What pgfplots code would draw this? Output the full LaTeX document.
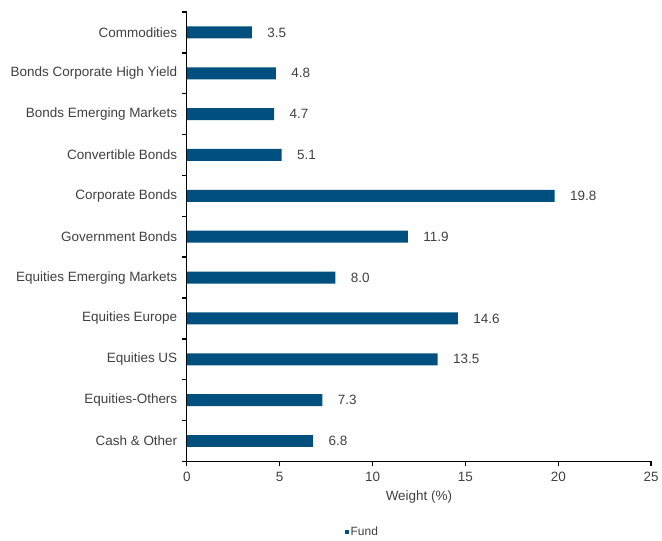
\documentclass[border=0pt]{standalone}
\usepackage{pgfplots}
\pgfplotsset{compat=1.18}
\usepackage{fontspec}
\setmainfont{Liberation Sans}
\definecolor{barblue}{HTML}{00507F}
\definecolor{txt}{HTML}{404040}
\begin{document}
\begin{tikzpicture}
\begin{axis}[
  name=ax,
  scale only axis,
  width=465pt, height=450pt,
  xbar, bar width=12pt,
  xmin=0, xmax=25,
  ymin=-0.5, ymax=10.5,
  y dir=reverse,
  axis x line*=bottom,
  axis y line*=left,
  axis line style={black, line width=1.4pt},
  xtick={0,5,...,25},
  ytick={0,...,10},
  yticklabels={Commodities,Bonds Corporate High Yield,Bonds Emerging Markets,Convertible Bonds,Corporate Bonds,Government Bonds,Equities Emerging Markets,Equities Europe,Equities US,Equities-Others,Cash \& Other},
  minor ytick={-0.5,0.5,...,10.5},
  major y tick style={draw=none},
  minor y tick style={black, line width=1.4pt},
  x tick style={black, line width=1.4pt},
  tick align=outside,
  major tick length=5pt, minor tick length=5pt,
  tick label style={font=\fontsize{13.5}{15}\selectfont, text=txt},
  yticklabel style={xshift=-1pt},
  xticklabel style={yshift=-2pt},
  /pgf/number format/assume math mode=true,
  xlabel={Weight (\%)},
  xlabel style={font=\fontsize{13.5}{15}\selectfont, text=txt, yshift=-2pt},
  nodes near coords,
  nodes near coords style={font=\fontsize{13.5}{15}\selectfont, text=txt, anchor=west, xshift=12pt,
    /pgf/number format/.cd, fixed, precision=1, fixed zerofill},
  legend style={at={(0.378,-0.156)}, anchor=center, draw=none, fill=none,
    font=\fontsize{12}{14}\selectfont, text=txt, inner sep=0pt},
  legend image code/.code={\fill[barblue] (1pt,-2pt) rectangle (5pt,2pt);},
  clip=false,
]
\addplot[fill=barblue, draw=none] coordinates {
(3.5,0) (4.8,1) (4.7,2) (5.1,3) (19.8,4) (11.9,5) (8.0,6) (14.6,7) (13.5,8) (7.3,9) (6.8,10)
};
\addlegendentry{Fund}
\end{axis}
\useasboundingbox ([xshift=-187pt,yshift=-79pt]ax.south west) rectangle ([xshift=475pt,yshift=462pt]ax.south west);
\end{tikzpicture}
\end{document}
